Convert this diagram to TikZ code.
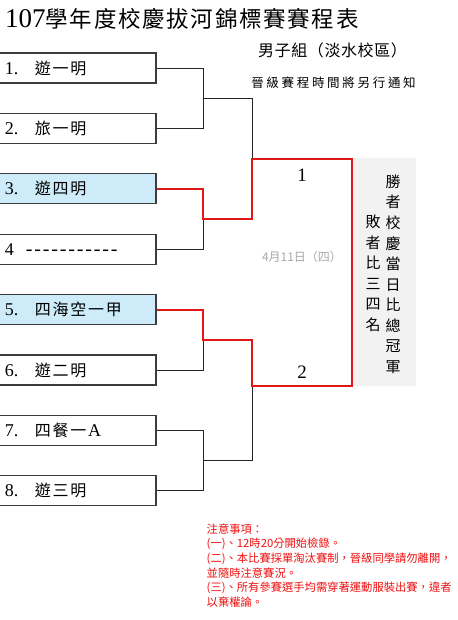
\documentclass[tikz,border=0pt]{standalone}
\usepackage{fontspec}
\setmainfont{Liberation Serif}
\newfontfamily\cjk{Noto Sans CJK TC}
% spaced CJK text: font size, extra kern between characters, text
\def\spcfirst#1{#1\spcrest}
\def\spcrest#1{\ifx#1\relax\else\kern\spcamt #1\expandafter\spcrest\fi}
\newcommand\cjt[3]{{\cjk\fontsize{#1}{#1}\selectfont\def\spcamt{#2pt}\spcfirst#3\relax}}
\newcommand\dg[2]{{\fontsize{#1}{#1}\selectfont #2}}
\newcommand\dashrow{\makebox[94pt][l]{\leaders\hbox to 8.5pt{\hss\dg{20}{-}\hss}\hfill}}
\definecolor{boxline}{HTML}{3C3C3C}
\definecolor{winfill}{HTML}{CDEBF9}
\definecolor{winred}{HTML}{E01818}
\definecolor{panelgray}{HTML}{F2F2F2}
\definecolor{dategray}{HTML}{A8A8A8}
\definecolor{notered}{HTML}{F01010}
\tikzset{
  team/.style={draw=boxline, line width=1.2pt, fill=white, minimum width=158pt, minimum height=30pt,
    text width=144pt, inner xsep=7pt, inner ysep=0pt, align=left},
  winteam/.style={team, fill=winfill},
  conn/.style={draw=black!85, line width=0.9pt},
  redconn/.style={draw=winred, line width=2.2pt, line join=miter},
  panel/.style={fill=panelgray, draw=none, minimum width=63pt, minimum height=228pt, inner sep=0pt},
  vcol/.style={inner sep=0pt, align=center, font=\cjk\fontsize{15}{20.55}\selectfont},
  note/.style={anchor=base west, inner sep=0pt, text=notered, font=\cjk\fontsize{11.3}{11.3}\selectfont}
}
\begin{document}
\begin{tikzpicture}[x=1pt,y=-1pt]
\useasboundingbox (0,0) rectangle (457,620);
\fill[white] (0,0) rectangle (457,620);

% title and headers
\node[anchor=west, inner sep=0pt] (title) at (5,19) {\dg{27}{107}\cjt{22.5}{1.7}{學年度校慶拔河錦標賽賽程表}};
\node[inner sep=0pt] (group) at (332.5,50) {\cjt{16}{0.6}{男子組（淡水校區）}};
\node[inner sep=0pt] (notice) at (333.5,83) {\cjt{12.5}{2.7}{晉級賽程時間將另行通知}};

% teams
\node[team]    (t1) at (77,68)    {\makebox[30pt][l]{\dg{18}{1.}}\cjt{16}{1.7}{遊一明}};
\node[team]    (t2) at (77,128.4) {\makebox[30pt][l]{\dg{18}{2.}}\cjt{16}{1.7}{旅一明}};
\node[winteam] (t3) at (77,188.8) {\makebox[30pt][l]{\dg{18}{3.}}\cjt{16}{1.7}{遊四明}};
\node[team]    (t4) at (77,249.2) {\makebox[20pt][l]{\dg{18}{4}}\dashrow};
\node[winteam] (t5) at (77,309.6) {\makebox[30pt][l]{\dg{18}{5.}}\cjt{16}{1.7}{四海空一甲}};
\node[team]    (t6) at (77,370)   {\makebox[30pt][l]{\dg{18}{6.}}\cjt{16}{1.7}{遊二明}};
\node[team]    (t7) at (77,430.4) {\makebox[30pt][l]{\dg{18}{7.}}\cjt{16}{1.7}{四餐一}\kern1.7pt\dg{18}{A}};
\node[team]    (t8) at (77,490.8) {\makebox[30pt][l]{\dg{18}{8.}}\cjt{16}{1.7}{遊三明}};

% panel
\node[panel] (panel) at (384.5,272) {};
\node[vcol] (wincol) at (393,274.2) {勝\\者\\校\\慶\\當\\日\\比\\總\\冠\\軍};
\node[vcol] (losecol) at (373,273.4) {敗\\者\\比\\三\\四\\名};

% junction coordinates
\coordinate (j12) at (203,98.2);  \coordinate (k12) at (252,98.2);
\coordinate (j34) at (203,219);   \coordinate (k34) at (252,219);
\coordinate (j56) at (203,339.8); \coordinate (k56) at (252,339.8);
\coordinate (j78) at (203,460.6); \coordinate (k78) at (252,460.6);
\coordinate (f1) at (252,159);    \coordinate (f1r) at (352,159);
\coordinate (f2) at (252,386);    \coordinate (f2r) at (352,386);

% black connectors
\draw[conn] (t1.east) -| (j12);
\draw[conn] (t2.east) -| (j12) -- (k12) -- (f1);
\draw[conn] (t4.east) -| (j34);
\draw[conn] (t6.east) -| (j56);
\draw[conn] (t7.east) -| (j78);
\draw[conn] (t8.east) -| (j78) -- (k78) -- (f2);

% winners path
\draw[redconn] (t3.east) -| (j34) -- (k34) -- (f1) -- (f1r) -- (f2r) -- (f2) -- (k56) -- (j56) |- (t5.east);

% match labels
\node[inner sep=0pt] (m1) at (302,175) {\dg{19}{1}};
\node[inner sep=0pt] (m2) at (302,372) {\dg{19}{2}};
\node[inner sep=0pt, text=dategray] (date) at (302,257) {\cjt{12}{0}{4月11日（四）}};

% notes
\node[note] (n1) at (206.5,533)   {注意事項：};
\node[note] (n2) at (206.5,547.7) {(一)、12時20分開始檢錄。};
\node[note] (n3) at (206.5,562.4) {(二)、本比賽採單淘汰賽制，晉級同學請勿離開，};
\node[note] (n4) at (206.5,577.1) {並隨時注意賽況。};
\node[note] (n5) at (206.5,591.8) {(三)、所有參賽選手均需穿著運動服裝出賽，違者};
\node[note] (n6) at (206.5,606.5) {以棄權論。};
\end{tikzpicture}
\end{document}
